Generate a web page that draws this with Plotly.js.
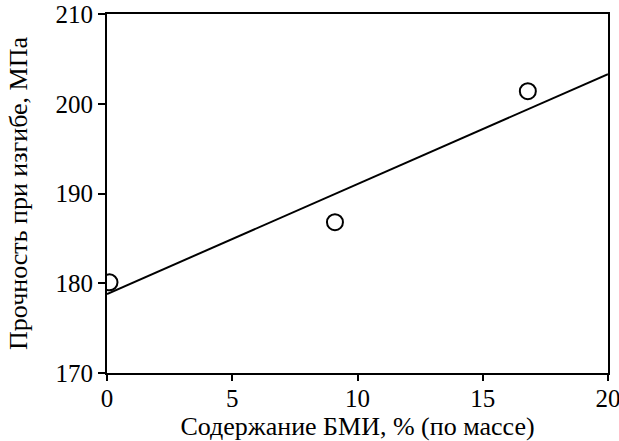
<!DOCTYPE html>
<html>
<head>
<meta charset="utf-8">
<script src="https://cdn.plot.ly/plotly-3.0.1.min.js"></script>
<style>html,body{margin:0;padding:0;background:#fff;}#chart{width:619px;height:441px;}</style>
</head>
<body>
<div id="chart"></div>
<script>
const bmiContent = [0.1, 9.1, 16.8];
const flexStrength = [180.1, 186.8, 201.4];
const fitX = [0, 20];
const fitY = [178.8, 203.3];
const xTicks = [0, 5, 10, 15, 20];
const yTicks = [170, 180, 190, 200, 210];

const FAM = 'Liberation Serif';

const traces = [
  {x: fitX, y: fitY, mode: 'lines', line: {color: '#000', width: 2}, showlegend: false, hoverinfo: 'skip'},
  {x: bmiContent, y: flexStrength, mode: 'markers',
   marker: {symbol: 'circle-open', size: 16, color: '#000', line: {width: 2, color: '#000'}}, showlegend: false}
];

const layout = {
  width: 619, height: 441,
  margin: {l: 107, r: 11, t: 14, b: 68},
  paper_bgcolor: '#fff', plot_bgcolor: '#fff',
  font: {family: FAM, size: 25, color: '#000'},
  xaxis: {
    range: [0, 20], tickvals: xTicks, ticktext: xTicks.map(String),
    ticks: 'outside', ticklen: 6, tickwidth: 2, tickcolor: '#000',
    showline: true, linewidth: 2, linecolor: '#000', mirror: true,
    showgrid: false, zeroline: false, ticklabeloverflow: 'allow', ticklabelstandoff: -4,
    title: {text: 'Содержание БМИ, % (по массе)', font: {family: FAM, size: 26}, standoff: 0},
    tickfont: {family: FAM, size: 25}
  },
  yaxis: {
    range: [170, 210], tickvals: yTicks, ticktext: yTicks.map(String),
    ticks: 'outside', ticklen: 7, tickwidth: 2, tickcolor: '#000',
    showline: true, linewidth: 2, linecolor: '#000', mirror: true,
    showgrid: false, zeroline: false, ticklabeloverflow: 'allow',
    title: {text: 'Прочность при изгибе, МПа', font: {family: FAM, size: 26}, standoff: 20},
    tickfont: {family: FAM, size: 25}
  }
};

const cfg = {displayModeBar: false, staticPlot: true};
Plotly.newPlot('chart', traces, layout, cfg);
if (document.fonts && document.fonts.load) {
  document.fonts.load('26px "' + FAM + '"', 'Содержание 0123456789').then(function () {
    Plotly.newPlot('chart', traces, layout, cfg);
  }).catch(function () {});
}
</script>
</body>
</html>
